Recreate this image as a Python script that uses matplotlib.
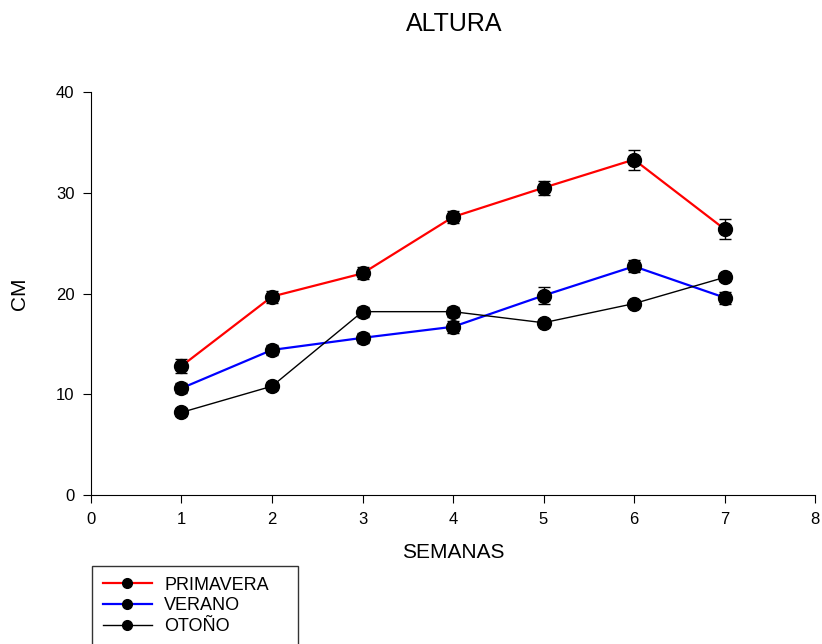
import matplotlib
matplotlib.use("Agg")
import matplotlib.pyplot as plt
from matplotlib.lines import Line2D

plt.rcParams['font.family'] = ['Liberation Sans', 'DejaVu Sans']

semanas = [1, 2, 3, 4, 5, 6, 7]

primavera = [12.8, 19.7, 22.0, 27.6, 30.5, 33.3, 26.4]
primavera_err = [0.7, 0.6, 0.6, 0.6, 0.7, 1.0, 1.0]

verano = [10.6, 14.4, 15.6, 16.7, 19.8, 22.7, 19.6]
verano_err = [0.5, 0.5, 0.5, 0.6, 0.8, 0.6, 0.6]

otono = [8.2, 10.8, 18.2, 18.2, 17.1, 19.0, 21.6]
otono_err = [0.4, 0.4, 0.5, 0.5, 0.4, 0.3, 0.4]

fig = plt.figure(figsize=(8.22, 6.44), dpi=100)
ax = fig.add_axes([0.1107, 0.2314, 0.8808, 0.6256])

series = [
    ('PRIMAVERA', primavera, primavera_err, 'red', 1.6),
    ('VERANO', verano, verano_err, 'blue', 1.6),
    ('OTOÑO', otono, otono_err, 'black', 1.0),
]
handles = []
for name, vals, errs, color, lw in series:
    ax.errorbar(semanas, vals, yerr=errs, color=color, lw=lw,
                marker='o', markersize=10, markerfacecolor='black',
                markeredgecolor='black', ecolor='black', elinewidth=1,
                capsize=4.5, capthick=1)
    # legend shows line + marker only, no error bar
    handles.append(Line2D([], [], color=color, lw=lw, marker='o',
                          markersize=7, markerfacecolor='black',
                          markeredgecolor='black', label=name))

ax.set_xlim(0, 8)
ax.set_ylim(0, 40)
ax.set_xticks(range(0, 9))
ax.set_yticks([0, 10, 20, 30, 40])
ax.spines['top'].set_visible(False)
ax.spines['right'].set_visible(False)
ax.tick_params(direction='out', length=6, labelsize=12, pad=6)
ax.set_xlabel('SEMANAS', fontsize=15, labelpad=12)
ax.set_ylabel('CM', fontsize=15, labelpad=19)
fig.text(0.553, 0.963, 'ALTURA', ha='center', va='center', fontsize=18)

leg = ax.legend(handles=handles, loc='upper left',
                bbox_to_anchor=(0.0014, -0.276, 0.2845, 0.1), mode='expand',
                fontsize=13, frameon=True, fancybox=False, edgecolor='black',
                handlelength=2.7, handletextpad=0.7, borderpad=0.6,
                labelspacing=0.2, borderaxespad=0)
leg.get_frame().set_linewidth(1.0)

fig.savefig('out.png', dpi=100)
